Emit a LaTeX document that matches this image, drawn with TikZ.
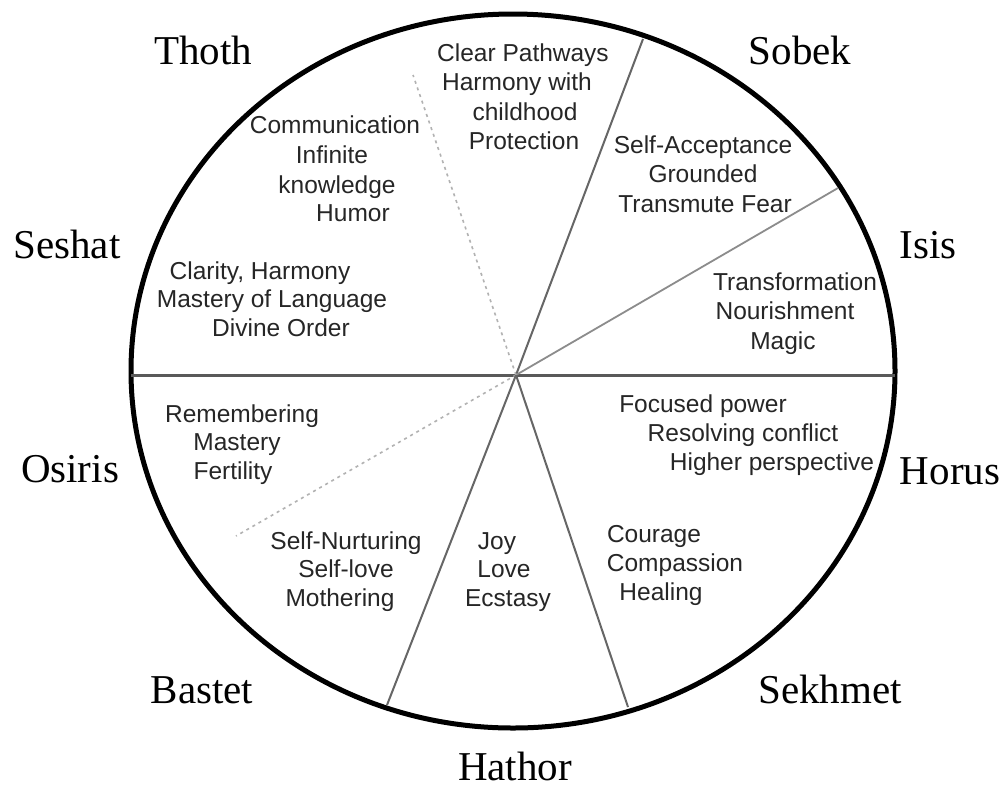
\documentclass[tikz,border=0pt]{standalone}
\usepackage{fontspec}
\setmainfont{Liberation Serif}
\newfontfamily\lsans{Liberation Sans}
\begin{document}
\begin{tikzpicture}[x=1pt,y=-1pt,
  god/.style={font=\fontsize{41}{41}\selectfont, anchor=base, inner sep=0pt, text=black},
  txt/.style={font=\lsans\fontsize{24.5}{29}\selectfont, anchor=base, inner sep=0pt, text=black!85},
  rim/.style={line width=5pt, draw=black},
  spoke/.style={line width=2pt, draw=black!60},
  faint/.style={line width=1.6pt, draw=black!30, dash pattern=on 3pt off 4pt},
  light/.style={line width=1.8pt, draw=black!45}]
\useasboundingbox (0,0) rectangle (1003,788);
\fill[white] (0,0) rectangle (1003,788);
% rim
\draw[rim] (513,371) ellipse [x radius=382, y radius=357];
% spokes
\coordinate (c) at (516,375);
\coordinate (hl) at (131,375);
\coordinate (hr) at (895,375);
\coordinate (ptop) at (643,39);
\coordinate (pisis) at (838,188);
\coordinate (pthoth) at (413,75);
\coordinate (posiris) at (236,536);
\coordinate (pbl) at (387,705);
\coordinate (pbr) at (628,707);
\draw[line width=3pt, draw=black!65] (hl) -- (hr);
\draw[spoke] (c) -- (ptop);
\draw[light] (c) -- (pisis);
\draw[faint] (c) -- (pthoth);
\draw[faint] (c) -- (posiris);
\draw[spoke] (c) -- (pbl);
\draw[spoke] (c) -- (pbr);
% god names
\node[god] (thoth) at (203,64) {Thoth};
\node[god] (sobek) at (800,64) {Sobek};
\node[god] (seshat) at (67,258) {Seshat};
\node[god] (isis) at (928,258) {Isis};
\node[god] (osiris) at (70,482) {Osiris};
\node[god] (horus) at (950,484) {Horus};
\node[god] (bastet) at (202,703) {Bastet};
\node[god] (sekhmet) at (830,703) {Sekhmet};
\node[god] (hathor) at (515,780) {Hathor};
% texts
\node[txt] (a1) at (523,61) {Clear Pathways};
\node[txt] (a2) at (517,90) {Harmony with};
\node[txt] (a3) at (525,120) {childhood};
\node[txt] (a4) at (524,149) {Protection};
\node[txt] (b1) at (335,133) {Communication};
\node[txt] (b2) at (332,163) {Infinite};
\node[txt] (b3) at (337,193) {knowledge};
\node[txt] (b4) at (353,221) {Humor};
\node[txt] (d1) at (703,153) {Self-Acceptance};
\node[txt] (d2) at (703,182) {Grounded};
\node[txt] (d3) at (705,212) {Transmute Fear};
\node[txt] (e1) at (260,279) {Clarity, Harmony};
\node[txt] (e2) at (272,307) {Mastery of Language};
\node[txt] (e3) at (281,336) {Divine Order};
\node[txt] (f1) at (795,290) {Transformation};
\node[txt] (f2) at (785,319) {Nourishment};
\node[txt] (f3) at (783,349) {Magic};
\node[txt] (g1) at (242,422) {Remembering};
\node[txt] (g2) at (237,450) {Mastery};
\node[txt] (g3) at (233,479) {Fertility};
\node[txt] (h1) at (703,412) {Focused power};
\node[txt] (h2) at (743,441) {Resolving conflict};
\node[txt] (h3) at (772,470) {Higher perspective};
\node[txt] (i1) at (346,549) {Self-Nurturing};
\node[txt] (i2) at (346,577) {Self-love};
\node[txt] (i3) at (340,606) {Mothering};
\node[txt] (j1) at (497,549) {Joy};
\node[txt] (j2) at (504,577) {Love};
\node[txt] (j3) at (508,606) {Ecstasy};
\node[txt] (k1) at (654,542) {Courage};
\node[txt] (k2) at (675,571) {Compassion};
\node[txt] (k3) at (661,600) {Healing};
\end{tikzpicture}
\end{document}
